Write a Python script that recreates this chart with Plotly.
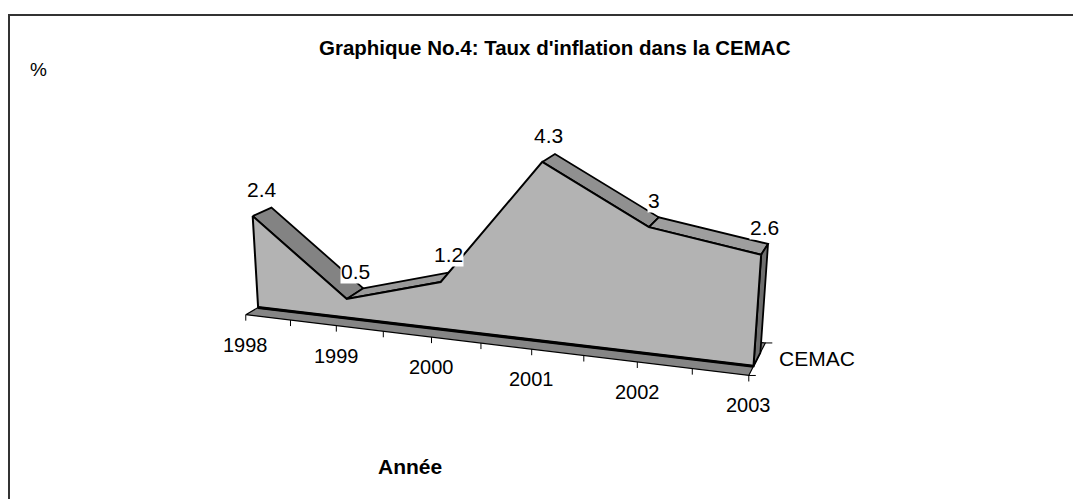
import numpy as np
import plotly.graph_objects as go

# ---------------- data ----------------
years = ["1998", "1999", "2000", "2001", "2002", "2003"]
inflation = [2.4, 0.5, 1.2, 4.3, 3, 2.6]
value_labels = ["2.4", "0.5", "1.2", "4.3", "3", "2.6"]
series_name = "CEMAC"
title_text = "Graphique No.4: Taux d'inflation dans la CEMAC"
y_title = "%"
x_title = "Année"

# ---------------- 3D view (Excel-like perspective) ----------------
W, H = 1081, 499
PAGE_OFF = 8               # default body margin of the html page
THETA = np.radians(20.0)   # rotation
PHI = np.radians(19.0)     # elevation
DIST = 1330.0              # perspective distance
CAT_STEP = 105.0
VAL_UNIT = 41.6
SLAB = 40.0                # thickness of the area slab
FLOOR_FRONT = -26.0
FLOOR_BACK = 70.0
CX, CY = 490.0, 335.0
FONT = "Liberation Sans, Arial, sans-serif"
n = len(years)


def proj(i, v, z):
    X = (np.asarray(i, float) - (n - 1) / 2.0) * CAT_STEP
    Y = np.asarray(v, float) * VAL_UNIT
    Z = np.asarray(z, float) + 0.0 * X
    x1 = X * np.cos(THETA) + Z * np.sin(THETA)
    z1 = -X * np.sin(THETA) + Z * np.cos(THETA)
    y2 = Y * np.cos(PHI) + z1 * np.sin(PHI)
    z2 = -Y * np.sin(PHI) + z1 * np.cos(PHI)
    s = DIST / (DIST + z2)
    return CX + x1 * s, CY - y2 * s


fig = go.Figure()


def poly(px, py, fill, lw=1.6, lc="black"):
    px = list(np.atleast_1d(px)); py = list(np.atleast_1d(py))
    fig.add_trace(go.Scatter(x=px + [px[0]], y=py + [py[0]], mode="lines",
                             fill="toself", fillcolor=fill,
                             line=dict(color=lc, width=lw),
                             hoverinfo="skip", showlegend=False))


def segs(xs, ys, lw=1.2, color="black"):
    fig.add_trace(go.Scatter(x=xs, y=ys, mode="lines",
                             line=dict(color=color, width=lw),
                             hoverinfo="skip", showlegend=False))


idx = np.arange(n)
vals = np.array(inflation, float)

# floor
fx, fy = proj([0, n - 1, n - 1, 0], [0, 0, 0, 0],
              [FLOOR_FRONT, FLOOR_FRONT, FLOOR_BACK, FLOOR_BACK])
poly(fx, fy, "#858585", lw=1.2)

# top strips of the slab
for k in range(n - 1):
    px, py = proj([k, k + 1, k + 1, k], [vals[k], vals[k + 1], vals[k + 1], vals[k]],
                  [0, 0, SLAB, SLAB])
    ex, ey = px[1] - px[0], py[1] - py[0]
    dx, dy = px[3] - px[0], py[3] - py[0]
    if ex * dy - ey * dx < 0:  # facing the viewer
        dY = (vals[k + 1] - vals[k]) * VAL_UNIT
        ny = CAT_STEP / np.hypot(CAT_STEP, dY)
        g = int(20 + 140 * ny)
        poly(px, py, f"rgb({g},{g},{g})", lw=1.8)

# right side face
sx, sy = proj([n - 1] * 4, [0, vals[-1], vals[-1], 0], [0, 0, SLAB, SLAB])
poly(sx, sy, "#6e6e6e", lw=1.8)

# front face
tx, ty = proj(idx, vals, 0)
bx, by = proj([n - 1, 0], [0, 0], [0, 0])
poly(list(tx) + list(bx), list(ty) + list(by), "#b3b3b3", lw=2)
segs(list(bx), list(by), lw=3.2)

# category axis ticks (floor front edge)
xs, ys = [], []
for t in np.arange(0, n - 1 + 1e-9, 0.5):
    x0, y0 = proj(t, 0, FLOOR_FRONT)
    xs += [float(x0), float(x0), None]; ys += [float(y0), float(y0) + 6, None]
segs(xs, ys, lw=1)

# series axis ticks
xs, ys = [], []
for z in (FLOOR_FRONT, FLOOR_BACK):
    x0, y0 = proj(n - 1, 0, z)
    xs += [float(x0), float(x0) + 7, None]; ys += [float(y0), float(y0), None]
segs(xs, ys, lw=1)

ann = []
# value labels
lx, ly = proj(idx, vals, SLAB / 2)
for k in range(n):
    ann.append(dict(x=float(lx[k]), y=float(ly[k]), xref="x", yref="y", text=value_labels[k],
                    showarrow=False, yshift=22, bgcolor="white", borderpad=0,
                    font=dict(family=FONT, size=21, color="black")))
# year labels
cx_, cy_ = proj(idx, np.zeros(n), FLOOR_FRONT)
for k in range(n):
    ann.append(dict(x=float(cx_[k]), y=float(cy_[k]), xref="x", yref="y", text=years[k],
                    showarrow=False, yshift=-30,
                    font=dict(family=FONT, size=20, color="black")))
# series label
sxl, syl = proj(n - 1, 0, (FLOOR_FRONT + FLOOR_BACK) / 2)
ann.append(dict(x=float(sxl), y=float(syl), xref="x", yref="y", text=series_name,
                showarrow=False, xanchor="left", xshift=20,
                font=dict(family=FONT, size=21, color="black")))
# titles
ann.append(dict(x=554.5, y=47, xref="x", yref="y", text=f"<b>{title_text}</b>",
                showarrow=False, font=dict(family=FONT, size=20.5, color="black")))
ann.append(dict(x=38.5, y=69, xref="x", yref="y", text=y_title,
                showarrow=False, font=dict(family=FONT, size=19, color="black")))
ann.append(dict(x=410, y=466, xref="x", yref="y", text=f"<b>{x_title}</b>",
                showarrow=False, font=dict(family=FONT, size=21, color="black")))

fig.update_layout(
    width=W, height=H, autosize=False,
    margin=dict(l=0, r=0, t=0, b=0),
    paper_bgcolor="white", plot_bgcolor="white",
    xaxis=dict(range=[PAGE_OFF, W + PAGE_OFF], visible=False, fixedrange=True),
    yaxis=dict(range=[H + PAGE_OFF, PAGE_OFF], visible=False, fixedrange=True),
    annotations=ann,
    shapes=[dict(type="rect", xref="x", yref="y",
                 x0=9, y0=15, x1=W + 30, y1=H + 30,
                 line=dict(color="#333333", width=2), fillcolor="rgba(0,0,0,0)")],
    showlegend=False,
)
fig.write_html("out.html")
